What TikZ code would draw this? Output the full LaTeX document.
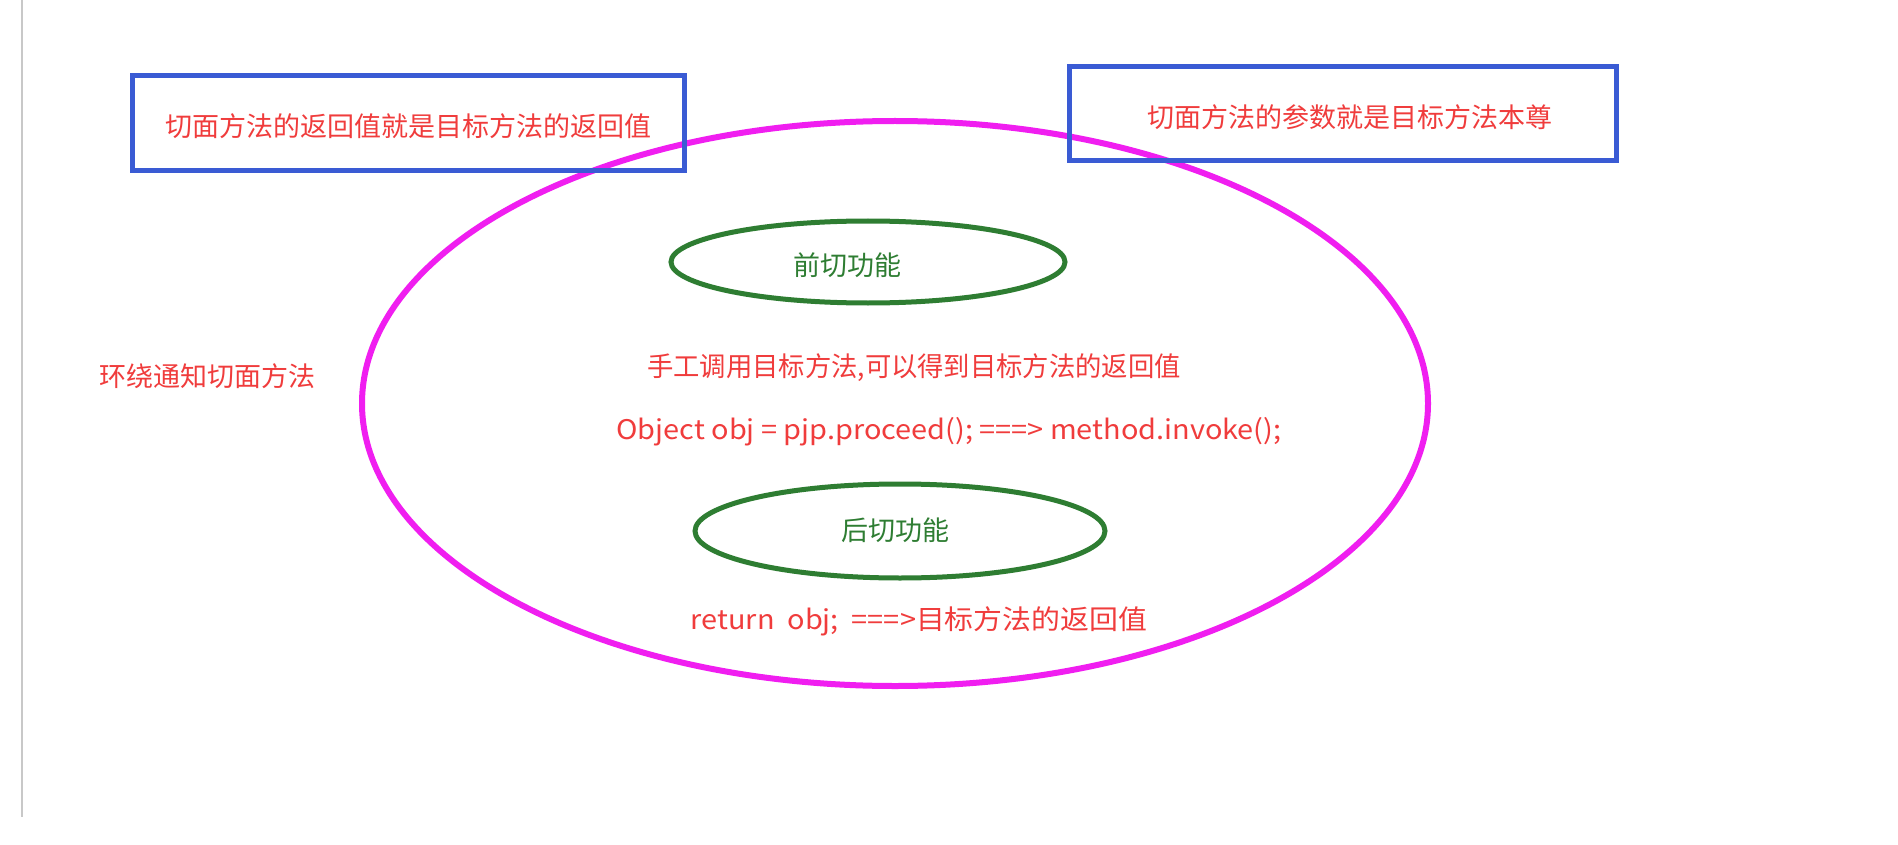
\documentclass[tikz,border=0pt]{standalone}
\usepackage{graphicx}
\usepackage{fontspec}
\setmainfont{Noto Sans CJK SC}
\newfontfamily\cjk{Noto Sans CJK SC}
\definecolor{boxblue}{RGB}{58,91,212}
\definecolor{txtred}{RGB}{240,60,60}
\definecolor{magen}{RGB}{240,30,240}
\definecolor{dgreen}{RGB}{46,125,50}
\definecolor{lgrey}{RGB}{200,200,200}
\begin{document}
\begin{tikzpicture}[x=1pt,y=-1pt,
  redtxt/.style={text=txtred,inner sep=0pt,font=\cjk\fontsize{27}{31}\selectfont},
  greentxt/.style={text=dgreen,inner sep=0pt,font=\cjk\fontsize{27}{31}\selectfont},
  bluebox/.style={draw=boxblue,line width=5pt},
  outer/.style={draw=magen,line width=6pt},
  inner/.style={draw=dgreen,line width=5pt}]
\useasboundingbox (0,0) rectangle (1898,845);
\fill[white] (0,0) rectangle (1898,845);
\draw[lgrey,line width=1.3pt] (22,0) -- (22,817);
% outer ellipse
\draw[outer] (895,403.5) ellipse [x radius=533, y radius=282.5];
% boxes
\draw[bluebox] (132,76) rectangle (684,171);
\node[redtxt] (t1) at (408,126) {切面方法的返回值就是目标方法的返回值};
\draw[bluebox] (1069,67) rectangle (1616,161);
\node[redtxt] (t2) at (1350,117) {切面方法的参数就是目标方法本尊};
% inner ellipses
\draw[inner] (868,262) ellipse [x radius=197, y radius=41];
\node[greentxt] (pre) at (847,265) {前切功能};
\draw[inner] (900,531) ellipse [x radius=205, y radius=47];
\node[greentxt] (post) at (895,530) {后切功能};
% texts
\node[redtxt] (around) at (207,376) {环绕通知切面方法};
\node[redtxt] (manual) at (914,368) {\scalebox{0.975}[1]{手工调用目标方法,可以得到目标方法的返回值}};
\node[redtxt] (code) at (949,432) {\scalebox{1.07}[1]{Object obj = pjp.proceed(); ===> method.invoke();}};
\node[redtxt] (ret) at (919,621) {\scalebox{1.07}[1]{return\ \ obj;\ \ ===>目标方法的返回值}};
\end{tikzpicture}
\end{document}
